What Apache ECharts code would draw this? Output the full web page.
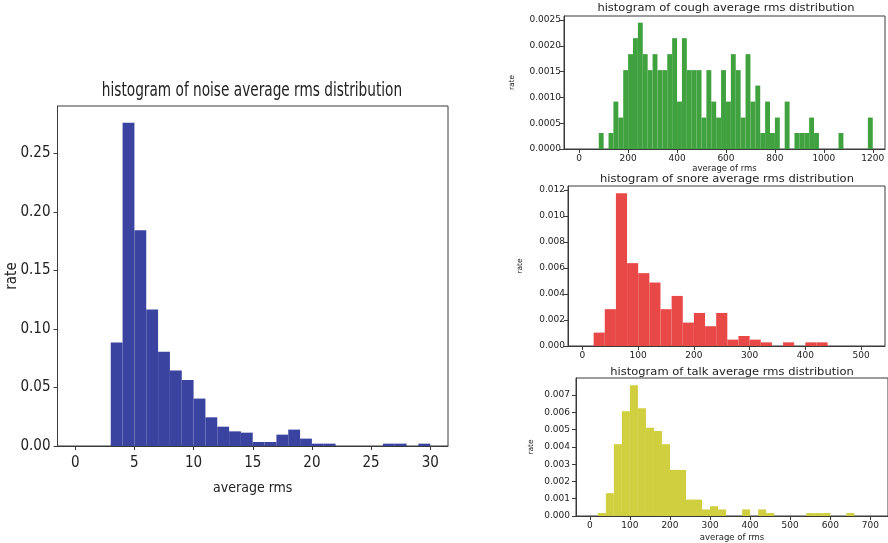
<!DOCTYPE html>
<html>
<head>
<meta charset="utf-8">
<script src="https://cdn.jsdelivr.net/npm/echarts@6/dist/echarts.min.js"></script>
<style>
  html, body { margin: 0; padding: 0; background: #fff; }
  #chart { width: 888px; height: 543px; }
</style>
</head>
<body>
<div id="chart"></div>
<script>
// histogram heights (rate per bin)
const noiseBinStart = 0, noiseBinWidth = 1;
const noiseRates = [0, 0, 0, 0.0884, 0.2762, 0.1842, 0.1166, 0.0804, 0.0644, 0.0564,
  0.0405, 0.0245, 0.0165, 0.0125, 0.0114, 0.0034, 0.0034, 0.0097, 0.014, 0.0063,
  0.002, 0.002, 0, 0, 0, 0, 0.002, 0.002, 0, 0.002];

const coughBinStart = 0, coughBinWidth = 20;
const coughRates = [0, 0, 0, 0, 0.00031, 0, 0.00031, 0.00092, 0.00061, 0.00153,
  0.00184, 0.00215, 0.00245, 0.00184, 0.00153, 0.00184, 0.00153, 0.00153, 0.00184, 0.00215,
  0.00092, 0.00215, 0.00153, 0.00153, 0.00153, 0.00061, 0.00153, 0.00092, 0.00061, 0.00153,
  0.00092, 0.00184, 0.00153, 0.00061, 0.00184, 0.00092, 0.00123, 0.00031, 0.00092, 0.00031,
  0.00061, 0, 0.00092, 0, 0.00031, 0.00031, 0.00031, 0.00061, 0.00031, 0,
  0, 0, 0, 0.00031, 0, 0, 0, 0, 0, 0.00061];

const snoreBinStart = 0, snoreBinWidth = 20;
const snoreRates = [0, 0.00103, 0.00283, 0.01174, 0.00637, 0.0056, 0.00488, 0.00283, 0.00385, 0.0018,
  0.00254, 0.00152, 0.00254, 0.00049, 0.00077, 0.00049, 0.00028, 0, 0.00028, 0,
  0.00028, 0.00028];

const talkBinStart = 0, talkBinWidth = 20;
const talkRates = [0, 0.00017, 0.00132, 0.00416, 0.00607, 0.00757, 0.00624, 0.00511, 0.00492, 0.00416,
  0.00267, 0.00267, 0.00095, 0.00095, 0.00038, 0.00057, 0.00038, 0, 0, 0.00038,
  0, 0.00038, 0.00017, 0, 0, 0, 0, 0.00017, 0.00017, 0.00017,
  0, 0, 0.00017];

// tick labels
const noiseXTicks = [0, 5, 10, 15, 20, 25, 30];
const noiseYTicks = [0, 0.05, 0.10, 0.15, 0.20, 0.25];
const coughXTicks = [0, 200, 400, 600, 800, 1000, 1200];
const coughYTicks = [0, 0.0005, 0.0010, 0.0015, 0.0020, 0.0025];
const snoreXTicks = [0, 100, 200, 300, 400, 500];
const snoreYTicks = [0, 0.002, 0.004, 0.006, 0.008, 0.010, 0.012];
const talkXTicks = [0, 100, 200, 300, 400, 500, 600, 700];
const talkYTicks = [0, 0.001, 0.002, 0.003, 0.004, 0.005, 0.006, 0.007];

const titles = [
  'histogram of noise average rms distribution',
  'histogram of cough average rms distribution',
  'histogram of snore average rms distribution',
  'histogram of talk average rms distribution'
];

const NARROW = "'Liberation Sans Narrow', 'DejaVu Sans Condensed', 'Roboto', sans-serif";
const DEJAVU = "'DejaVu Sans', sans-serif";
const AXIS_COLOR = '#3a3a3a';

function toBins(start, width, rates) {
  // [left edge, right edge, rate] for each bin
  return rates.map((r, i) => [start + i * width, start + (i + 1) * width, r]);
}

function histItem(params, api) {
  const h = api.value(2);
  if (!h) return null;
  const p0 = api.coord([api.value(0), h]);
  const p1 = api.coord([api.value(1), 0]);
  return {
    type: 'rect',
    shape: { x: p0[0], y: p0[1], width: p1[0] - p0[0], height: p1[1] - p0[1] },
    style: { fill: api.visual('color') }
  };
}

function xAxisFor(idx, min, max, ticks, font, size, margin, name, nameSize, nameGap) {
  return {
    type: 'value', gridIndex: idx, min: min, max: max,
    splitLine: { show: false },
    axisLine: { show: true, onZero: false, lineStyle: { color: AXIS_COLOR, width: 1 } },
    axisTick: { show: true, length: 4, customValues: ticks, lineStyle: { color: AXIS_COLOR } },
    axisLabel: { customValues: ticks, margin: margin, color: '#222', fontFamily: font, fontSize: size,
      formatter: v => String(v) },
    name: name, nameLocation: 'middle', nameGap: nameGap,
    nameTextStyle: { color: '#222', fontFamily: font, fontSize: nameSize }
  };
}

function yAxisFor(idx, max, ticks, digits, font, size, margin, nameSize, nameGap) {
  return {
    type: 'value', gridIndex: idx, min: 0, max: max,
    splitLine: { show: false },
    axisLine: { show: true, onZero: false, lineStyle: { color: AXIS_COLOR, width: 1 } },
    axisTick: { show: true, length: 4, customValues: ticks, lineStyle: { color: AXIS_COLOR } },
    axisLabel: {
      customValues: ticks, margin: margin, color: '#222', fontFamily: font, fontSize: size,
      formatter: v => Number(v).toFixed(digits)
    },
    name: 'rate', nameLocation: 'middle', nameGap: nameGap,
    nameTextStyle: { color: '#222', fontFamily: font, fontSize: nameSize }
  };
}

const gridBox = { show: true, borderColor: AXIS_COLOR, borderWidth: 1, backgroundColor: 'transparent' };

function titleText(x, y, text, font, sx) {
  return {
    type: 'text', x: x, y: y, scaleX: sx,
    style: { text: text, fill: '#222', font: font, textAlign: 'center', textVerticalAlign: 'middle' }
  };
}

// big chart's "rate" sits a bit closer to its tick labels
const noiseY = yAxisFor(0, 0.2904, noiseYTicks, 2, NARROW, 15, 7, 15, 38);
noiseY.nameMoveOverlap = false;

const chart = echarts.init(document.getElementById('chart'), null, { renderer: 'canvas' });

chart.setOption({
  animation: false,
  backgroundColor: '#fff',
  grid: [
    Object.assign({ left: 57.5, top: 106, right: 440, bottom: 97 }, gridBox),
    Object.assign({ left: 564, top: 16, right: 3, bottom: 394 }, gridBox),
    Object.assign({ left: 568, top: 186, right: 3, bottom: 197 }, gridBox),
    Object.assign({ left: 576, top: 378, right: -4, bottom: 26 }, gridBox)
  ],
  xAxis: [
    xAxisFor(0, -1.5, 31.5, noiseXTicks, NARROW, 15, 10, 'average rms', 14, 35),
    xAxisFor(1, -62, 1250, coughXTicks, DEJAVU, 9, 5, 'average of rms', 8.5, 14),
    xAxisFor(2, -26, 543, snoreXTicks, DEJAVU, 9, 5, '', 8.5, 15),
    xAxisFor(3, -34.5, 744, talkXTicks, DEJAVU, 9, 5, 'average of rms', 8.5, 17)
  ],
  yAxis: [
    noiseY,
    yAxisFor(1, 0.00258, coughYTicks, 4, DEJAVU, 9, 3, 7.5, 48),
    yAxisFor(2, 0.0123, snoreYTicks, 3, DEJAVU, 9, 3, 7.5, 44),
    yAxisFor(3, 0.00799, talkYTicks, 3, DEJAVU, 9, 6, 7.5, 41)
  ],
  series: [
    { type: 'custom', xAxisIndex: 0, yAxisIndex: 0, renderItem: histItem, color: '#3b43a0',
      encode: { x: [0, 1], y: 2 }, data: toBins(noiseBinStart, noiseBinWidth, noiseRates) },
    { type: 'custom', xAxisIndex: 1, yAxisIndex: 1, renderItem: histItem, color: '#3fa23f',
      encode: { x: [0, 1], y: 2 }, data: toBins(coughBinStart, coughBinWidth, coughRates) },
    { type: 'custom', xAxisIndex: 2, yAxisIndex: 2, renderItem: histItem, color: '#e84947',
      encode: { x: [0, 1], y: 2 }, data: toBins(snoreBinStart, snoreBinWidth, snoreRates) },
    { type: 'custom', xAxisIndex: 3, yAxisIndex: 3, renderItem: histItem, color: '#d0cf40',
      encode: { x: [0, 1], y: 2 }, data: toBins(talkBinStart, talkBinWidth, talkRates) }
  ],
  graphic: [
    titleText(252, 91, titles[0], '19px ' + NARROW, 0.8),
    titleText(726, 8, titles[1], '10px ' + DEJAVU, 1.15),
    titleText(727, 179, titles[2], '10px ' + DEJAVU, 1.15),
    titleText(732, 372, titles[3], '10px ' + DEJAVU, 1.15)
  ]
});
</script>
</body>
</html>
